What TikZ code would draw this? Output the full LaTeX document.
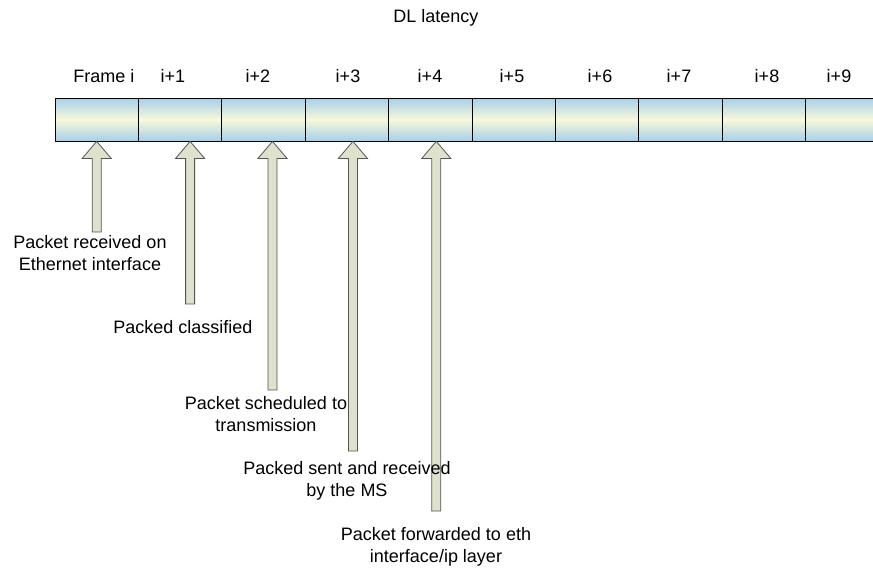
\documentclass[tikz,border=0pt]{standalone}
\usepackage{fontspec}
\setmainfont{Liberation Sans}
\usetikzlibrary{calc}
\definecolor{barblue}{HTML}{A6CFEB}
\definecolor{barcream}{HTML}{F8F8DA}
\definecolor{liftfill}{HTML}{DEE1CB}
\definecolor{liftline}{HTML}{555555}

% block arrow pointing up: tip coordinate, base coordinate
\newcommand\liftarrow[2]{%
  \draw[lift] (#1) -- ++(14.5,-17) -- ++(-10,0) -- ($(#1 |- #2)+(4.5,0)$)
    -- ($(#1 |- #2)+(-4.5,0)$) -- ($(#1)+(-4.5,-17)$) -- ++(-10,0) -- cycle;}

\begin{document}
\begin{tikzpicture}[
    x=1pt, y=1pt,
    font=\fontsize{18}{22}\selectfont,
    cell/.style={draw, line width=0.8pt, minimum width=83.4pt, minimum height=43pt, inner sep=0pt,
                 top color=barblue, bottom color=barblue, middle color=barcream},
    lift/.style={draw=liftline, fill=liftfill, line width=0.8pt, line join=miter},
    note/.style={align=center, inner sep=0pt},
    framelbl/.style={inner sep=0pt}
]
\path[use as bounding box, clip] (0,0) rectangle (873,-568);

% title
\node[framelbl] (title) at (436,-18) {DL latency};

% frame bar
\foreach \k in {0,...,10}
  \node[cell] (c\k) at ({96.7+83.4*\k},-119.5) {};

% frame labels
\foreach \lbl/\x [count=\n] in {Frame i/104, i+1/173, i+2/258, i+3/348, i+4/430,
                                i+5/512, i+6/600, i+7/679, i+8/767, i+9/839}
  \node[framelbl] (f\n) at (\x,-76) {\lbl};

% arrow tips and bases
\coordinate (tip1) at (c0.south);
\coordinate (tip2) at ([xshift=10pt]c1.south);
\coordinate (tip3) at ([xshift=9pt]c2.south);
\coordinate (tip4) at ([xshift=6pt]c3.south);
\coordinate (tip5) at ([xshift=6pt]c4.south);
\coordinate (base1) at (0,-232);
\coordinate (base2) at (0,-304);
\coordinate (base3) at (0,-390);
\coordinate (base4) at (0,-451);
\coordinate (base5) at (0,-511);

\foreach \n in {1,...,5} {\liftarrow{tip\n}{base\n}}

% events
\node[note] (rx) at (90,-253) {Packet received on\\Ethernet interface};
\node[note] (cls) at (183,-327) {Packed classified};
\node[note] (sched) at (266,-414) {Packet scheduled to\\transmission};
\node[note] (sent) at (347,-481) {Packed sent and received\\by the MS};
\node[note] (fwd) at (436,-546.5) {Packet forwarded to eth\\interface/ip layer};

\end{tikzpicture}
\end{document}
